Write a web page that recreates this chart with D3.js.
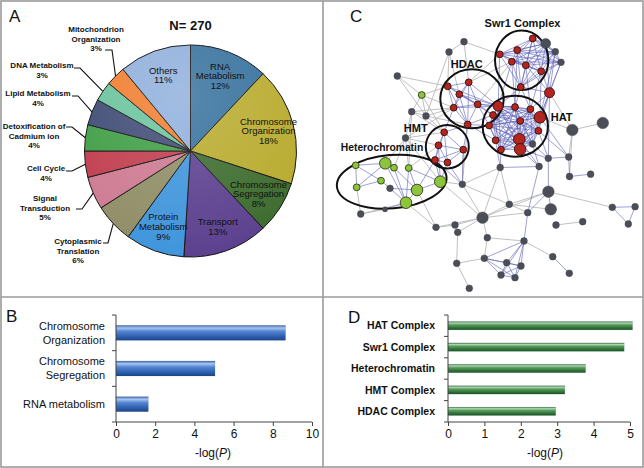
<!DOCTYPE html>
<html><head><meta charset="utf-8">
<script src="https://cdn.jsdelivr.net/npm/d3@7"></script>
<style>
body{margin:0;background:#fff}
svg{display:block;font-family:"Liberation Sans",Arial,Helvetica,sans-serif}
</style>
</head><body>
<svg id="fig" width="644" height="468"></svg>
<script>
// ---------------- DATA ----------------
// Panel A: pie of GO categories (N = 270)
const pieCategories = ["RNA Metabolism","Chromosome Organization","Chromosome Segregation","Transport",
  "Protein Metabolism","Cytoplasmic Translation","Signal Transduction","Cell Cycle",
  "Detoxification of Cadmium ion","Lipid Metabolism","DNA Metabolism","Mitochondrion Organization","Others"];
const pieValues = [12,18,8,13,9,6,5,4,4,4,3,3,11];
const pieTotal = 270;

// Panel B
const bCategories = ["Chromosome Organization","Chromosome Segregation","RNA metabolism"];
const bValues = [8.65,5.05,1.65];
const bTicks = [0,2,4,6,8,10];

// Panel D
const dCategories = ["HAT Complex","Swr1 Complex","Heterochromatin","HMT Complex","HDAC Complex"];
const dValues = [5.07,4.84,3.78,3.21,2.96];
const dTicks = [0,1,2,3,4,5];

// Panel C: network (layout coordinates, group, weight)
const nodeIds = ["g1","g2","g3","y1","g4","g5","g6","h1","h2","h3","h4","h5","h6","m1","m2","m3","m4","m5",
 "s1","s2","s3","s4","s5","s6","s7","g7","g8","g9","r1",
 "a1","a2","a3","a4","a5","a6","a7","a8","a9","a10","a11","a12","g12",
 "g10","g11","g13","g14","g15","g16","g17","g18","g19","g20","g21","g22","g23","g24","g25","g26","g27","g28","g29",
 "g30","g31","g32","g33","g34","g35","g36","g37","g38","g39","g40","g41","g42","g43","g44","g45","g46",
 "y2","y3","y4","y5","y6","y7","y8","y9","y10"];
const nodeX = [464,449,397.3,421.7,411.7,426,405.5,447.7,468.7,459.3,477.7,453.7,467.7,444.2,438.5,463.3,435,447.5,
 532.7,499.7,517.2,511.8,525.8,541.2,520.8,545.7,555.3,561,549.5,
 498.2,493,515,530.4,539.9,520.3,538.4,489.2,495.6,519.3,520.1,501,532.5,
 572.3,602.8,548.3,568.7,500.2,539.1,569.5,590.6,548.4,550.8,509.3,527.7,482.5,487.3,556,582.7,612.3,635.1,628.3,
 524,484.3,506.7,521,501,515,552.7,569.3,462.3,390,360.7,385,436,455,457.7,456.7,469.3,
 355.7,385.3,394,408.7,381,356.7,417,440.3,406];
const nodeY = [41.7,52,76,95,111.7,116,138,86.3,82.3,94.3,104.3,107.7,124.5,132.3,145.3,149.7,160,162.5,
 38.5,54.3,50,61.7,65.3,71.3,87,43.5,51.7,62.3,92.7,
 106.2,115,107,109.2,117.3,120.9,130.8,125.5,140.3,139.3,149.3,149.6,144,
 130,123,158.3,157,167.5,166.5,176.5,174.2,191.7,209.3,204.3,212.7,217.7,237.7,225,221.7,207.3,206.7,224,
 241,258.3,262.7,266,275,277.7,256.7,273.3,184.3,188.3,214,209.3,227.3,225,232.3,263.3,288.3,
 165.3,163.3,167.7,168,180.7,187.3,190,181.7,202.7];
const nodeGroup = ["g","g","g","y","g","g","g","r","r","r","r","r","r","r","r","r","r","r",
 "r","r","r","r","r","r","r","g","g","g","r",
 "r","r","r","r","r","r","r","r","r","r","r","r","g",
 "g","g","g","g","g","g","g","g","g","g","g","g","g","g","g","g","g","g","g",
 "g","g","g","g","g","g","g","g","g","g","g","g","g","g","g","g","g",
 "y","y","y","y","y","y","y","y","y"];
const nodeWeight = [1,1,1,1,1,1,1,1,1,1,1,1,1,1,1,1,1,1,
 1,1,1,1,1,1,1,2,1,1,2,
 2,1,1,1,3,1,1,1,1,3,3,1,1,
 3,3,1,1,1,1,1,1,3,3,1,1,3,1,1,1,1,1,1,
 1,1,1,1,1,1,1,1,1,1,1,0,1,1,1,1,1,
 1,3,1,1,1,1,3,3,3];
// cliques (all-pairs blue interactions)
const blueCliques = [
 ["s1","s2","s3","s4","s5","s6","s7","g7","g8","g9"],
 ["h1","h2","h3","h4","h5","h6"],
 ["a1","a2","a3","a4","a5","a6","a7","a8","a9","a10","a11","a12","g12"],
 ["m1","m2","m3","m4","m5"],
 ["g31","g32","g33","g34","g35"]
];
const blueEdges = ["h2-a1","h4-a1","h3-a1","h4-a2","h6-a2","h6-a8","h5-a1","h1-a1","h4-a8","h3-a2","h4-a3","h6-a9",
 "s7-a3","s7-a4","s7-a1","s6-a5","s6-r1","s5-r1","g9-r1","g8-r1","s7-r1","r1-a5","r1-a4","r1-a7","g7-r1",
 "s4-a3","s5-a4","s6-a4","s3-a3","s2-a1","s4-a1","g9-a5","g8-a5",
 "g13-g14","g15-g16","a11-g16","a12-g15","a10-g16","a7-g14","a5-g14","a7-g13","a11-g13","g12-g13","a9-g15","g12-g16",
 "r1-g13","g13-g19","g16-g22","g19-g22","g19-g20","g22-g30","g30-g31","g30-g32","g30-g33","g30-g34","g30-g35",
 "g36-g37","g27-g28","g28-g29","g27-g29","g17-g18","g14-g17",
 "m3-g38","m5-g38","m4-g38","m1-h5","m3-h6","m1-h6","m4-y9","m2-y9","m4-y8","m5-y9",
 "y2-y3","y2-y6","y3-y7","y2-y7","y6-y7","y3-y4","y4-y10","y5-y10","y5-y8","y8-y10","y9-y8","y3-y10",
 "g39-y10","g39-y8","y6-g39","y9-y5","y10-g41","y4-y8"];
const grayEdges = ["g1-h2","g1-g2","g2-h1","g2-h3","g3-y1","g3-g5","y1-g4","y1-g5","y1-h1","y1-h5","g4-g5","g4-h5",
 "g5-h5","g5-m1","g4-g6","g6-m2","g6-m1","g5-h6","g4-m1","y1-m1","g2-g5","g6-y3","g6-h5","g4-y5","g6-y4","g6-y5",
 "h2-s2","h2-s4","g1-s2","h4-s4","h1-g3",
 "a5-g10","g10-g11","g10-g14","g10-g17","r1-g10",
 "g23-g21","g23-g19","g23-g38","g23-g42","g23-g43","g23-g44","g23-g24","g24-g31","g38-g21","g43-g44","g42-g43",
 "g45-g46","g45-g31","g44-g45","g30-g36","g19-g27","g21-g19","g15-g21","g15-g23","g22-g23","g23-y9","g38-y9",
 "g40-g41","g40-y10","g42-y10","g25-g26","g21-g20","g38-h6","g38-m3","g42-y8","g40-y7","g24-g30","g21-g22",
 "m2-y5","g6-y9","g38-g15"];

// Cluster annotations
const clusterNames = ["Swr1 Complex","HDAC","HAT","HMT","Heterochromatin"];
const clusterCX = [521.7,472,515.3,447.3,391.7];
const clusterCY = [60.3,98.8,126.2,146.7,181.7];
const clusterRX = [26.7,31.7,32.7,21.5,55];
const clusterRY = [29.7,29.5,30.5,21.7,26.7];

// ---------------- STYLE / LAYOUT ----------------
const svg = d3.select("#fig");
const defs = svg.append("defs");
const pieColors = ["#346f9c","#b8aa2c","#3c6b2d","#5b3f8e","#3e94db","#8f8c65","#cd7891","#c03a4b",
  "#3d9c43","#3c4873","#68c29c","#f07b2b","#8eaedb"];
const ink = "#111";

function grad(id, stops){
  const g = defs.append("linearGradient").attr("id",id).attr("x1",0).attr("y1",0).attr("x2",0).attr("y2",1);
  stops.forEach(s=>g.append("stop").attr("offset",s[0]).attr("stop-color",s[1]));
}
grad("gBlue",[["0%","#3b69b4"],["18%","#a9c5ef"],["40%","#5585d2"],["75%","#2d5fae"],["100%","#1b4488"]]);
grad("gGreen",[["0%","#3c7a42"],["18%","#b2d6b0"],["40%","#5a9c60"],["75%","#2f7235"],["100%","#1d5424"]]);

// frame
svg.append("rect").attr("x",1).attr("y",1).attr("width",642).attr("height",466)
  .attr("fill","none").attr("stroke","#9a9a9a").attr("stroke-width",1.6);
svg.append("line").attr("x1",323).attr("x2",323).attr("y1",1).attr("y2",467).attr("stroke","#9a9a9a").attr("stroke-width",1.6);
svg.append("line").attr("x1",1).attr("x2",643).attr("y1",297).attr("y2",297).attr("stroke","#9a9a9a").attr("stroke-width",1.6);

// panel letters
[["A",9,22],["B",6,322],["C",350,22],["D",348,323]].forEach(p=>{
  svg.append("text").attr("x",p[1]).attr("y",p[2]).text(p[0])
    .attr("font-size",17).attr("fill",ink);
});

// ---------------- PANEL A ----------------
const pcx = 190.5, pcy = 151, pr = 106;
const gA = svg.append("g").attr("transform",`translate(${pcx},${pcy})`);
const pie = d3.pie().sort(null).value(d=>d.v);
const pieData = pie(pieCategories.map((c,i)=>({c, v:pieValues[i], i})));
const arc = d3.arc().innerRadius(0).outerRadius(pr);
gA.selectAll("path.sl").data(pieData).join("path").attr("class","sl")
  .attr("d",arc).attr("fill",d=>pieColors[d.data.i]).attr("stroke","#111").attr("stroke-width",1);
// soft highlight
const rg = defs.append("radialGradient").attr("id","shine").attr("cx","45%").attr("cy","25%").attr("r","80%");
rg.append("stop").attr("offset","0%").attr("stop-color","#fff").attr("stop-opacity",0.18);
rg.append("stop").attr("offset","100%").attr("stop-color","#fff").attr("stop-opacity",0);
gA.append("circle").attr("r",pr).attr("fill","url(#shine)").attr("pointer-events","none");

svg.append("text").attr("x",pcx).attr("y",30).attr("text-anchor","middle")
  .attr("font-size",13).attr("font-weight","bold").attr("fill",ink).text("N= " + pieTotal);

const insideLines = {
  "RNA Metabolism":["RNA","Metabolism"],
  "Chromosome Organization":["Chromosome","Organization"],
  "Chromosome Segregation":["Chromosome","Segregation"],
  "Transport":["Transport"],
  "Protein Metabolism":["Protein","Metabolism"],
  "Others":["Others"]
};
const labelArc = d3.arc().innerRadius(pr*0.76).outerRadius(pr*0.76);
pieData.filter(d=>insideLines[d.data.c]).forEach(d=>{
  const lines = insideLines[d.data.c].concat([d.data.v+"%"]);
  const [x,y] = labelArc.centroid(d);
  const t = gA.append("text").attr("text-anchor","middle").attr("font-size",9.5).attr("fill",ink);
  const lh = 9.6, y0 = y - (lines.length-1)*lh/2 + 3.3;
  lines.forEach((l,k)=>t.append("tspan").attr("x",x).attr("y",y0+k*lh).text(l));
});
// outside labels (layout: label centre x, first-line centre y, leader start x, leader y, elbow x)
const outsideLayout = {
  "Mitochondrion Organization":{lines:["Mitochondrion","Organization"], cx:96, cy:29, lx:105, ly:50, ex:112},
  "DNA Metabolism":{lines:["DNA Metabolism"], cx:42, cy:65, lx:74, ly:68, ex:80},
  "Lipid Metabolism":{lines:["Lipid Metabolism"], cx:38, cy:93, lx:72, ly:96, ex:78},
  "Detoxification of Cadmium ion":{lines:["Detoxification of","Cadmium ion"], cx:34, cy:126, lx:66, ly:127, ex:72},
  "Cell Cycle":{lines:["Cell Cycle"], cx:46, cy:168, lx:66, ly:171, ex:72},
  "Signal Transduction":{lines:["Signal","Transduction"], cx:45, cy:198, lx:76, ly:209, ex:82},
  "Cytoplasmic Translation":{lines:["Cytoplasmic","Translation"], cx:78, cy:241, lx:103, ly:243, ex:108}
};
pieData.filter(d=>outsideLayout[d.data.c]).forEach(d=>{
  const L = outsideLayout[d.data.c];
  const lines = L.lines.concat([d.data.v+"%"]);
  const t = svg.append("text").attr("text-anchor","middle").attr("font-size",8).attr("font-weight","bold").attr("fill",ink);
  lines.forEach((l,k)=>t.append("tspan").attr("x",L.cx).attr("y",L.cy+k*9.7+2.9).text(l));
  const mid = (d.startAngle+d.endAngle)/2;
  const px = pcx + pr*Math.sin(mid), py = pcy - pr*Math.cos(mid);
  svg.append("path").attr("d",`M${L.lx},${L.ly}H${L.ex}L${px},${py}`)
    .attr("fill","none").attr("stroke","#111").attr("stroke-width",1.1);
});

// ---------------- BAR PANELS ----------------
function barPanel(cats, vals, ticks, x0, x1, labelX, fill, labelFn, fontW, barFrac, titleX){
  const x = d3.scaleLinear().domain([ticks[0], ticks[ticks.length-1]]).range([x0,x1]);
  const y = d3.scaleBand().domain(cats).range([315,422]);
  const g = svg.append("g");
  const bh = y.bandwidth()*barFrac;
  g.selectAll("rect.bar").data(cats).join("rect").attr("class","bar")
    .attr("x",x(0)).attr("y",c=>y(c)+(y.bandwidth()-bh)/2)
    .attr("width",(c,i)=>x(vals[i])-x(0)).attr("height",bh)
    .attr("fill",fill).attr("stroke","#1d3b6a").attr("stroke-opacity",0.25).attr("stroke-width",0.5);
  // x axis
  const ax = g.append("g").attr("transform","translate(0,422)")
    .call(d3.axisBottom(x).tickValues(ticks).tickSize(4).tickPadding(3).tickFormat(d3.format("d")));
  ax.select(".domain").attr("stroke","#444").attr("d",`M${x0},0H${x1}`);
  ax.selectAll(".tick line").attr("stroke","#444");
  ax.selectAll("text").attr("font-size",12).attr("fill",ink).attr("font-family","Liberation Sans, Arial, sans-serif");
  // y axis line + category ticks at band boundaries
  g.append("line").attr("x1",x0).attr("x2",x0).attr("y1",315).attr("y2",422).attr("stroke","#444");
  const bounds = cats.map(c=>y(c)).concat([422]);
  g.selectAll("line.yt").data(bounds).join("line").attr("class","yt")
    .attr("x1",x0-4).attr("x2",x0).attr("y1",d=>d).attr("y2",d=>d).attr("stroke","#444");
  // category labels
  cats.forEach(c=>{
    const lines = labelFn(c);
    const cy = y(c)+y.bandwidth()/2;
    const t = g.append("text").attr("text-anchor","end").attr("font-size",fontW[0]).attr("font-weight",fontW[1]).attr("fill",ink);
    const lh = 14, y0 = cy - (lines.length-1)*lh/2 + fontW[0]*0.35;
    lines.forEach((l,k)=>t.append("tspan").attr("x",labelX).attr("y",y0+k*lh).text(l));
  });
  // title
  const tt = g.append("text").attr("x",titleX).attr("y",457).attr("text-anchor","middle").attr("font-size",12).attr("fill",ink);
  tt.append("tspan").text("-log(");
  tt.append("tspan").attr("font-style","italic").text("P");
  tt.append("tspan").text(")");
}
barPanel(bCategories,bValues,bTicks,116,312,105,"url(#gBlue)",
  c=>c==="RNA metabolism"?[c]:c.split(" "),[11,"normal"],0.42,213);
barPanel(dCategories,dValues,dTicks,448,630,435,"url(#gGreen)",
  c=>[c],[10.5,"bold"],0.39,545);

// ---------------- PANEL C ----------------
const nx = d3.scaleLinear().domain([322,644]).range([322,644]);
const ny = d3.scaleLinear().domain([0,297]).range([0,297]);
const rScale = d3.scaleOrdinal().domain([0,1,2,3]).range([2.6,3.4,5,5.8]);
const nodeIndex = new Map(nodeIds.map((id,i)=>[id,i]));
const gC = svg.append("g");
function edgeList(list){ return list.map(s=>s.split("-")).map(([a,b])=>[nodeIndex.get(a),nodeIndex.get(b)]); }
const allBlue = [];
blueCliques.forEach(cl=>{ for(let i=0;i<cl.length;i++) for(let j=i+1;j<cl.length;j++) allBlue.push([nodeIndex.get(cl[i]),nodeIndex.get(cl[j])]); });
edgeList(blueEdges).forEach(e=>allBlue.push(e));
gC.selectAll("line.ge").data(edgeList(grayEdges)).join("line").attr("class","ge")
  .attr("x1",d=>nx(nodeX[d[0]])).attr("y1",d=>ny(nodeY[d[0]]))
  .attr("x2",d=>nx(nodeX[d[1]])).attr("y2",d=>ny(nodeY[d[1]]))
  .attr("stroke","#b9b9b9").attr("stroke-width",0.9);
gC.selectAll("line.be").data(allBlue).join("line").attr("class","be")
  .attr("x1",d=>nx(nodeX[d[0]])).attr("y1",d=>ny(nodeY[d[0]]))
  .attr("x2",d=>nx(nodeX[d[1]])).attr("y2",d=>ny(nodeY[d[1]]))
  .attr("stroke","#5a60b8").attr("stroke-opacity",0.75).attr("stroke-width",0.8);
// cluster rings
clusterNames.forEach((n,i)=>{
  gC.append("ellipse").attr("cx",nx(clusterCX[i])).attr("cy",ny(clusterCY[i]))
    .attr("rx",clusterRX[i]).attr("ry",clusterRY[i])
    .attr("transform", n==="Heterochromatin" ? `rotate(-5,${nx(clusterCX[i])},${ny(clusterCY[i])})` : null)
    .attr("fill","none").attr("stroke","#111").attr("stroke-width",2);
});
const fillC = {g:"#4b4e57", r:"#b3261f", y:"#8cc43c"};
const strokeC = {g:"#3a3c43", r:"#3b0c08", y:"#2f3d12"};
gC.selectAll("circle.nd").data(nodeIds.map((id,i)=>i)).join("circle").attr("class","nd")
  .attr("cx",i=>nx(nodeX[i])).attr("cy",i=>ny(nodeY[i])).attr("r",i=>rScale(nodeWeight[i]))
  .attr("fill",i=>fillC[nodeGroup[i]]).attr("stroke",i=>strokeC[nodeGroup[i]])
  .attr("stroke-width",i=>nodeGroup[i]==="g"?0.4:0.9);
// cluster labels
const clusterLabelPos = {"Swr1 Complex":[522.5,27.3],"HDAC":[466.7,68],"HAT":[561.7,121.3],"HMT":[415.7,132.3],"Heterochromatin":[382,151.3]};
clusterNames.forEach(n=>{
  const p = clusterLabelPos[n];
  gC.append("text").attr("x",p[0]).attr("y",p[1]).attr("text-anchor","middle")
    .attr("font-size",n==="Heterochromatin"?10.3:11).attr("font-weight","bold").attr("fill",ink).text(n);
});
</script>
</body></html>
